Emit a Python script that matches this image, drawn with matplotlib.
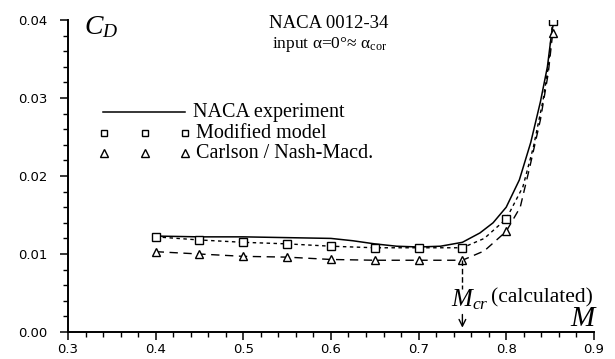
import matplotlib
matplotlib.use("Agg")
import matplotlib.pyplot as plt

plt.rcParams['mathtext.fontset'] = 'custom'
plt.rcParams['mathtext.rm'] = 'Liberation Serif'
plt.rcParams['mathtext.it'] = 'Liberation Serif:italic'

# Data
mach_pts = [0.40, 0.45, 0.50, 0.55, 0.60, 0.65, 0.70, 0.75, 0.80, 0.853]
cd_model = [0.0122, 0.0118, 0.0115, 0.0113, 0.0110, 0.0108, 0.0108, 0.0108, 0.0145, 0.0399]
cd_carlson = [0.0103, 0.0100, 0.0097, 0.0096, 0.0093, 0.0092, 0.0092, 0.0092, 0.0129, 0.0383]

naca_m = [0.40, 0.45, 0.50, 0.55, 0.60, 0.625, 0.65, 0.675, 0.70, 0.725, 0.75, 0.77,
          0.785, 0.80, 0.815, 0.828, 0.839, 0.847, 0.852, 0.854]
naca_cd = [0.0123, 0.0122, 0.0122, 0.0121, 0.0120, 0.0117, 0.0113, 0.0110, 0.0109, 0.0110,
           0.0115, 0.0127, 0.0140, 0.0160, 0.0195, 0.0243, 0.0295, 0.0340, 0.0385, 0.0396]

model_curve_m = [0.40, 0.45, 0.50, 0.55, 0.60, 0.65, 0.70, 0.75, 0.775, 0.80, 0.819,
                 0.831, 0.842, 0.848, 0.853]
model_curve_cd = [0.0122, 0.0118, 0.0115, 0.0113, 0.0110, 0.0108, 0.0108, 0.0108, 0.0120,
                  0.0145, 0.0186, 0.0237, 0.0297, 0.0340, 0.0399]

carlson_curve_m = [0.40, 0.45, 0.50, 0.55, 0.60, 0.65, 0.70, 0.75, 0.775, 0.80, 0.816,
                   0.827, 0.839, 0.848, 0.853]
carlson_curve_cd = [0.0103, 0.0100, 0.0097, 0.0096, 0.0093, 0.0092, 0.0092, 0.0092, 0.0104,
                    0.0129, 0.0160, 0.0212, 0.0272, 0.0332, 0.0383]

x_ticks = [0.3, 0.4, 0.5, 0.6, 0.7, 0.8, 0.9]
y_ticks = [0.00, 0.01, 0.02, 0.03, 0.04]
mcr = 0.75

serif = 'Liberation Serif'

fig = plt.figure(figsize=(6.15, 3.59), dpi=100)
ax = fig.add_axes([0.1106, 0.0752, 0.855, 0.869])

ax.plot(naca_m, naca_cd, color='black', lw=1.1, solid_capstyle='round')
ax.plot(model_curve_m, model_curve_cd, color='black', lw=1.0, linestyle=(0, (2.5, 2.5)))
ax.plot(carlson_curve_m, carlson_curve_cd, color='black', lw=1.0, linestyle=(0, (6, 4)))
ax.plot(mach_pts, cd_model, linestyle='none', marker='s', markersize=5.5,
        markerfacecolor='white', markeredgecolor='black', markeredgewidth=1.0)
ax.plot(mach_pts, cd_carlson, linestyle='none', marker='^', markersize=6,
        markerfacecolor='white', markeredgecolor='black', markeredgewidth=1.0)

ax.set_xlim(0.3, 0.9)
ax.set_ylim(0.0, 0.04)
ax.set_xticks(x_ticks)
ax.set_yticks(y_ticks)
ax.set_xticklabels([f"{v:.1f}" for v in x_ticks])
ax.set_yticklabels([f"{v:.2f}" for v in y_ticks])
ax.set_xticks([0.3 + 0.02 * i for i in range(31)], minor=True)
ax.set_yticks([0.002 * i for i in range(21)], minor=True)
for s in ['top', 'right']:
    ax.spines[s].set_visible(False)
for s in ['left', 'bottom']:
    ax.spines[s].set_linewidth(1.4)
ax.tick_params(which='major', direction='out', length=6, width=1.1, labelsize=9.5)
ax.tick_params(which='minor', direction='out', length=3.5, width=1.0)
ax.tick_params(axis='x', pad=2)
ax.tick_params(axis='y', pad=9)

# Texts
ax.text(0.3185, 0.0392, r'$C_D$', fontsize=20, ha='left', va='center')
ax.text(0.598, 0.0396, 'NACA 0012-34', fontsize=13.5, family=serif, ha='center', va='center')
ax.text(0.598, 0.0368, r'input α=0°≈ $\mathrm{α}_{\mathrm{cor}}$', fontsize=12.5,
        family=serif, ha='center', va='center')

# Legend (manual)
ax.plot([0.34, 0.434], [0.0282, 0.0282], color='black', lw=1.1)
ax.text(0.443, 0.0282, 'NACA experiment', fontsize=14.5, family=serif, va='center')
ax.plot([0.341, 0.388, 0.434], [0.0255, 0.0255, 0.0255], linestyle='none', marker='s',
        markersize=5, markerfacecolor='white', markeredgecolor='black', markeredgewidth=1.0)
ax.text(0.446, 0.0255, 'Modified model', fontsize=14.5, family=serif, va='center')
ax.plot([0.341, 0.388, 0.434], [0.0229, 0.0229, 0.0229], linestyle='none', marker='^',
        markersize=5.5, markerfacecolor='white', markeredgecolor='black', markeredgewidth=1.0)
ax.text(0.446, 0.0229, 'Carlson / Nash-Macd.', fontsize=14.5, family=serif, va='center')

# M_cr annotation
ax.plot([mcr, mcr], [0.0092, 0.0055], color='black', lw=1.0, linestyle=(0, (4, 2)))
ax.text(0.737, 0.0042, r'$M_{cr}$', fontsize=18, va='center', ha='left')
ax.text(0.7825, 0.0044, '(calculated)', fontsize=15.5, family=serif, va='center', ha='left')
ax.annotate('', xy=(mcr, 0.0002), xytext=(mcr, 0.0026),
            arrowprops=dict(arrowstyle='->', color='black', lw=1.0, mutation_scale=12))
ax.text(0.905, 0.0018, r'$M$', fontsize=21, ha='right', va='center')

fig.savefig('out.png', dpi=100)
